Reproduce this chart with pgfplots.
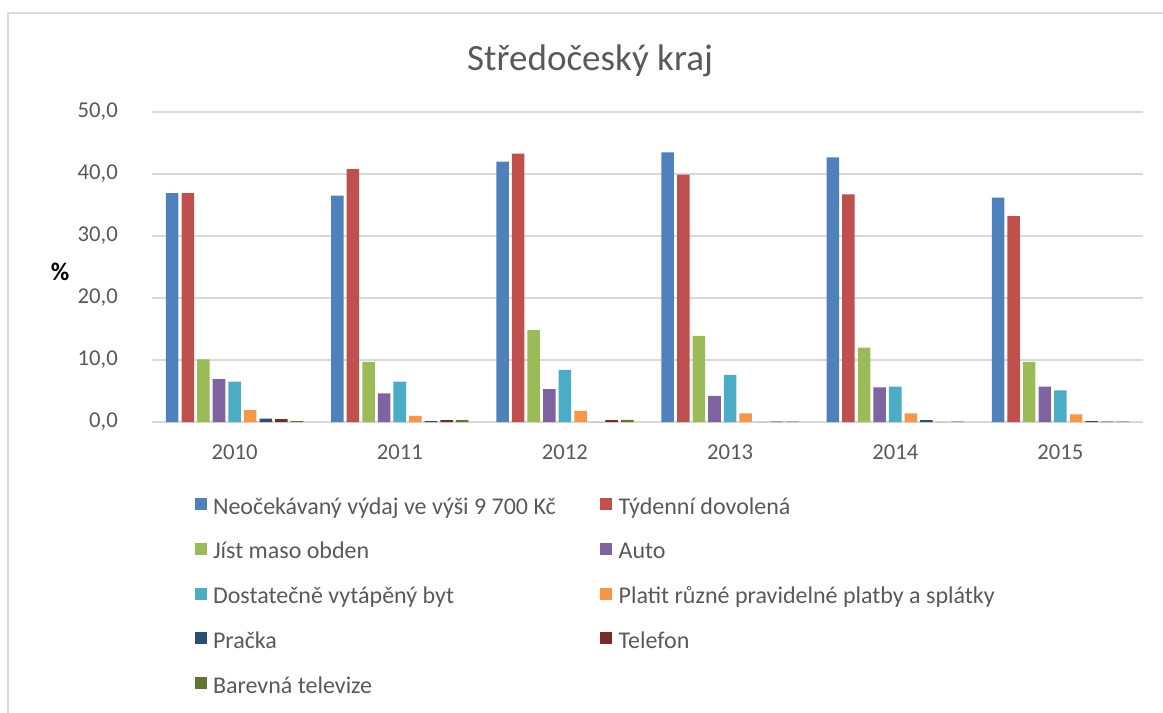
\documentclass[border=0pt]{standalone}
\usepackage{fontspec}
\setmainfont{Carlito}
\usepackage{pgfplots}
\usepackage{pgfplotstable}
\pgfplotsset{compat=1.18}

\definecolor{cNeo}{HTML}{4F81BD}
\definecolor{cDov}{HTML}{C0504D}
\definecolor{cMaso}{HTML}{9BBB59}
\definecolor{cAuto}{HTML}{8064A2}
\definecolor{cByt}{HTML}{4BACC6}
\definecolor{cPlatby}{HTML}{F79646}
\definecolor{cPracka}{HTML}{2C4D75}
\definecolor{cTelefon}{HTML}{772C2A}
\definecolor{cTV}{HTML}{5F7530}
\definecolor{gridgray}{HTML}{D9D9D9}
\definecolor{txtgray}{HTML}{595959}

% rok (0 = 2010), hodnoty v %
\pgfplotstableread{
x neo  dov  maso auto byt platby pracka telefon tv
0 36.9 36.9 10.1 6.9  6.5 1.9    0.55   0.45    0.15
1 36.5 40.8 9.7  4.6  6.5 1.0    0.15   0.3     0.3
2 42.0 43.3 14.8 5.3  8.4 1.8    0.0    0.3     0.35
3 43.5 39.9 13.9 4.2  7.6 1.4    0.0    0.05    0.05
4 42.7 36.7 12.0 5.6  5.7 1.4    0.3    0.0     0.05
5 36.2 33.2 9.7  5.7  5.1 1.25   0.15   0.05    0.05
}\data

\begin{document}
\begin{tikzpicture}
\useasboundingbox (0,0) rectangle (872.25pt,-534.75pt);
\draw[line width=1.1pt, gridgray] (6pt,-540pt) -- (6pt,-9.75pt) -- (880pt,-9.75pt);
\begin{axis}[
    at={(114pt,-316.5pt)}, anchor=south west,
    scale only axis,
    width=743.25pt, height=232.5pt,
    ybar=2.3pt,
    bar width=9.4pt,
    xmin=-0.5, xmax=5.5,
    ymin=0, ymax=50,
    ytick={0,10,...,50},
    xtick=data,
    xticklabels={2010,2011,2012,2013,2014,2015},
    axis line style={draw=none},
    major tick length=0pt,
    ymajorgrids,
    grid style={gridgray, line width=1.1pt},
    /pgf/number format/.cd, fixed, fixed zerofill, precision=1, use comma, assume math mode=true,
    /pgfplots/.cd,
    ticklabel style={font=\fontsize{17}{20}\selectfont, text=txtgray, inner sep=0pt},
    yticklabel style={xshift=-25.5pt},
    xticklabel style={yshift=-17pt},
    title={Středočeský kraj},
    every axis title/.style={at={(axis description cs:0.442,1.135)}, anchor=base,
        font=\fontsize{27.8}{33}\selectfont, text=txtgray},
    ylabel={\textbf{\%}},
    every axis y label/.style={at={(axis description cs:-0.0928,0.484)}, anchor=center,
        font=\fontsize{19}{22}\selectfont, text=black},
    legend columns=2,
    legend cell align=left,
    legend image code/.code={\fill[#1,draw=none] (0pt,-1.5pt) rectangle (9pt,7.5pt);},
    legend style={
        at={(axis description cs:0.0434,-0.2415)}, anchor=north west,
        draw=none, fill=none, inner sep=0pt, outer sep=0pt,
        font=\fontsize{18}{21}\selectfont, text=txtgray,
        nodes={inner sep=0pt, text height=13pt, text depth=4pt},
        row sep=16.55pt,
        /tikz/column 1/.style={column sep=4.5pt},
        /tikz/column 2/.style={column sep=33pt},
        /tikz/column 3/.style={column sep=5.25pt},
    },
]
\addplot[fill=cNeo, draw=none] table[x=x, y=neo] {\data};
\addplot[fill=cDov, draw=none] table[x=x, y=dov] {\data};
\addplot[fill=cMaso, draw=none] table[x=x, y=maso] {\data};
\addplot[fill=cAuto, draw=none] table[x=x, y=auto] {\data};
\addplot[fill=cByt, draw=none] table[x=x, y=byt] {\data};
\addplot[fill=cPlatby, draw=none] table[x=x, y=platby] {\data};
\addplot[fill=cPracka, draw=none] table[x=x, y=pracka] {\data};
\addplot[fill=cTelefon, draw=none] table[x=x, y=telefon] {\data};
\addplot[fill=cTV, draw=none] table[x=x, y=tv] {\data};
\legend{Neočekávaný výdaj ve výši 9 700 Kč, Týdenní dovolená, Jíst maso obden, Auto,
    Dostatečně vytápěný byt, Platit různé pravidelné platby a splátky, Pračka, Telefon,
    Barevná televize}
\end{axis}
\end{tikzpicture}
\end{document}
